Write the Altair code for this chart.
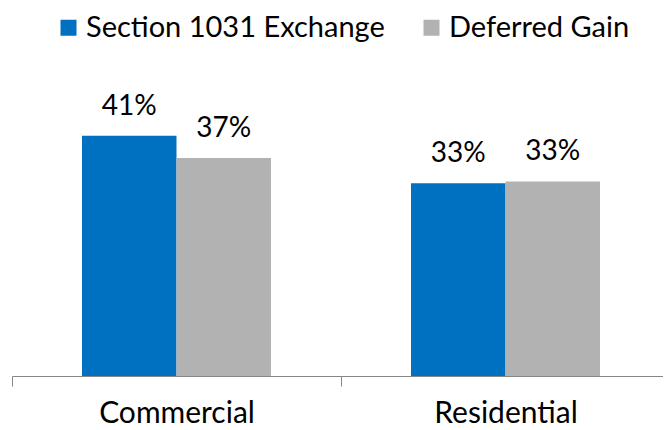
import altair as alt
import pandas as pd

categories = ["Commercial", "Commercial", "Residential", "Residential"]
series = ["Section 1031 Exchange", "Deferred Gain", "Section 1031 Exchange", "Deferred Gain"]
values = [41.0, 37.2, 32.9, 33.2]
series_order = ["Section 1031 Exchange", "Deferred Gain"]
series_colors = ["#0070C0", "#B2B2B2"]

df = pd.DataFrame({"category": categories, "series": series, "value": values})
df["label"] = [f"{round(v):.0f}%" for v in values]

FONT = "Lato"

x = alt.X(
    "category:N",
    title=None,
    scale=alt.Scale(paddingInner=0, paddingOuter=0, range=[0, 658]),
    axis=alt.Axis(
        labelAngle=0,
        labelFont=FONT,
        labelFontSize=30,
        labelColor="#000000",
        labelPadding=12,
        tickBand="extent",
        tickSize=10,
        tickColor="#868686",
        domainColor="#868686",
        domainWidth=1,
        tickWidth=1,
        grid=False,
    ),
)
xo = alt.XOffset(
    "series:N", sort=series_order, scale=alt.Scale(paddingInner=0, paddingOuter=0.741)
)
y = alt.Y("value:Q", scale=alt.Scale(domain=[0, 50]), axis=None)

bars = alt.Chart(df).mark_bar().encode(
    x=x,
    xOffset=xo,
    y=y,
    color=alt.Color(
        "series:N",
        sort=series_order,
        scale=alt.Scale(domain=series_order, range=series_colors),
        legend=alt.Legend(
            title=None,
            orient="none",
            direction="horizontal",
            legendX=42,
            legendY=-70,
            symbolType="square",
            symbolSize=256,
            symbolStrokeWidth=0,
            symbolOpacity=1,
            labelFont=FONT,
            labelFontSize=29,
            labelColor="#000000",
            labelOffset=3,
            labelLimit=500,
            columnPadding=32,
            padding=0,
        ),
    ),
)

labels = alt.Chart(df).mark_text(
    font=FONT, fontSize=28, color="#000000", baseline="alphabetic", dy=-21
).encode(x=x, xOffset=xo, y=y, text="label:N")

chart = (
    alt.layer(bars, labels)
    .properties(
        width=651,
        height=293,
        autosize=alt.AutoSizeParams(type="none"),
        padding={"left": 4, "top": 75, "right": 0, "bottom": 54},
        view=alt.ViewBackground(strokeWidth=0),
    )
    .configure_view(strokeWidth=0, stroke="transparent")
    .configure(background="#ffffff")
)

chart.save("out.html", embed_options={"renderer": "svg", "actions": False})
